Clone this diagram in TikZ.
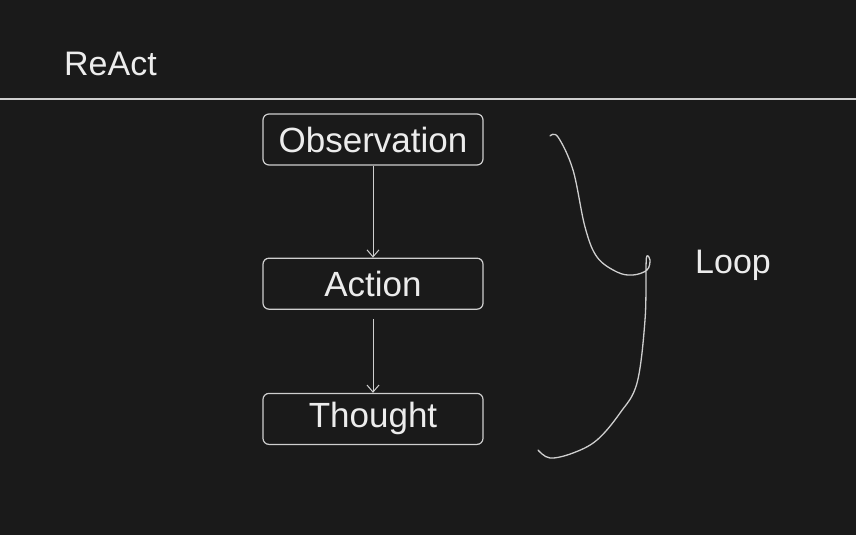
\documentclass[tikz,border=0pt]{standalone}
\usepackage{fontspec}
\setmainfont{Liberation Sans}
\usepackage{tikz}
\usetikzlibrary{arrows.meta, positioning}
\definecolor{CanvasDark}{HTML}{1A1A1A}
\definecolor{InkGrey}{HTML}{CFCFCF}
\definecolor{InkWhite}{HTML}{ECECEC}
\tikzset{
  stagebox/.style={rectangle, rounded corners=6pt, draw=InkGrey, line width=1.2pt, text=InkWhite, minimum width=220pt, minimum height=51pt, inner sep=0pt, font=\fontsize{35}{40}\selectfont, align=center},
  titletext/.style={text=InkWhite, inner sep=0pt, font=\fontsize{34}{40}\selectfont},
  arrow/.style={-{Straight Barb[length=7pt, width=12pt]}, line width=1pt, InkGrey},
  handline/.style={line width=1.3pt, InkGrey, line cap=round}
}

\begin{document}
\begin{tikzpicture}[x=1pt, y=-1pt]
  \useasboundingbox[fill=CanvasDark] (0,0) rectangle (856,535);
  % title and rule
  \node[titletext, anchor=base west] (title) at (64,75) {ReAct};
  \coordinate (ruleL) at (0,99);
  \coordinate (ruleR) at (856,99);
  \draw[handline, line width=1.5pt, line cap=butt] (ruleL) -- (ruleR);

  % steps
  \node[stagebox] (obs) at (373,139.5) {Observation};
  \node[stagebox, below=92pt of obs] (act) {Action};
  \node[stagebox, below=83pt of act] (tho) {Thought};

  \draw[arrow] (obs.south) -- (act.north);
  \draw[arrow, shorten <=9pt] (act.south) -- (tho.north);

  % brace
  \draw[handline] plot[smooth, tension=0.6] coordinates {
    (550,136) (558,137) (573,170) (585,227) (597,257) (617,272) (633,275)
    (647,270) (650,260) (647,256) (646,267) (645,320) (637,383) (620,413)
    (597,440) (573,453) (550,458) (538,450)};
  \node[titletext, anchor=base west] (loop) at (695,273) {Loop};
\end{tikzpicture}
\end{document}
